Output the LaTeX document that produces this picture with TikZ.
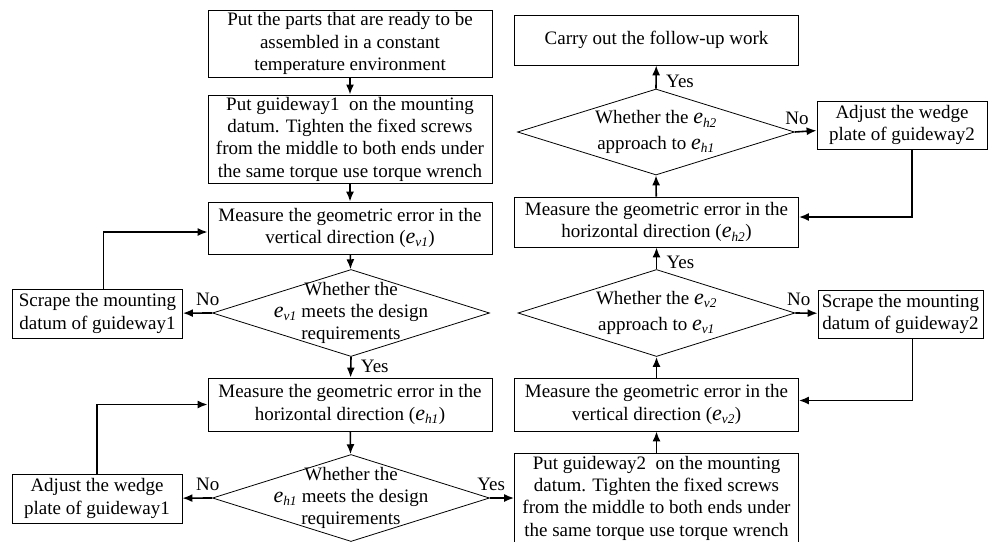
\documentclass[tikz,border=0pt]{standalone}
\usepackage{fontspec}
\setmainfont{Liberation Serif}
\usetikzlibrary{shapes.geometric,arrows.meta}

\newcommand{\esub}[1]{{\fontsize{22}{22.3}\selectfont\textit{e}}\textsubscript{\textit{#1}}}

\tikzset{
	box/.style={draw, line width=0.8pt, align=center, minimum width=284pt, inner xsep=2pt, inner ysep=2pt},
	sbox/.style={draw, line width=0.8pt, align=center, minimum width=170pt, minimum height=49pt, inner sep=2pt},
	dia/.style={draw, diamond, line width=0.8pt, inner sep=0pt, minimum width=277pt, minimum height=87pt},
	flow/.style={line width=1.6pt, -{Latex[length=10pt,width=8pt]}},
	tag/.style={above, yshift=3pt}
}

\begin{document}
\begin{tikzpicture}[x=1pt, y=-1pt, font=\fontsize{19}{22.3}\selectfont]
\useasboundingbox (0,0) rectangle (992,541);

\node[box, minimum height=67pt] (a) at (350,43.5) {Put the parts that are ready to be\\assembled in a constant\\temperature environment};
\node[box, minimum height=88pt] (b) at (350,139) {Put guideway1\ \ on the mounting\\datum. Tighten the fixed screws\\from the middle to both ends under\\the same torque use torque wrench};
\node[box, minimum height=52pt] (c) at (350,228) {Measure the geometric error in the\\vertical direction (\esub{v1})};
\node[dia, label={[align=center]center:{Whether the\\\esub{v1} meets the design\\requirements}}] (d1) at (351,313) {};
\node[sbox] (s1) at (97.5,313.5) {Scrape the mounting\\datum of guideway1};
\node[box, minimum height=53pt] (e) at (350,404.5) {Measure the geometric error in the\\horizontal direction (\esub{h1})};
\node[dia, label={[align=center]center:{Whether the\\\esub{h1} meets the design\\requirements}}] (d2) at (351,498) {};
\node[sbox] (a1) at (97,498.5) {Adjust the wedge\\plate of guideway1};

\node[box, minimum height=90pt] (f) at (656.5,498) {Put guideway2\ \ on the mounting\\datum. Tighten the fixed screws\\from the middle to both ends under\\the same torque use torque wrench};
\node[box, minimum height=53pt] (g) at (656.5,404.5) {Measure the geometric error in the\\vertical direction (\esub{v2})};
\node[dia, label={[align=center]center:{Whether the \esub{v2}\\[3pt]approach to \esub{v1}}}] (d3) at (656.5,313) {};
\node[sbox, minimum width=165pt, minimum height=48pt] (s2) at (900.5,314) {Scrape the mounting\\datum of guideway2};
\node[box, minimum height=50pt] (h) at (656.5,222) {Measure the geometric error in the\\horizontal direction (\esub{h2})};
\node[dia, minimum height=86pt] (d4) at (656,132) {};
\node[align=center] (d4t) at (d4.center) {Whether the \esub{h2}\\[3pt]approach to \esub{h1}};
\node[sbox, minimum height=48pt] (a2) at (902,125) {Adjust the wedge\\plate of guideway2};
\node[box, minimum height=50pt] (i) at (656.5,40) {Carry out the follow-up work};

\draw[flow] (a)--(b);
\draw[flow] (b)--(c);
\draw[flow] (c)--(d1);
\draw[flow] (d1.south)--(e) node[pos=0.45, right, xshift=6pt]{Yes};
\draw[flow] (d1.west)--(s1) node[pos=0.15, tag]{No};
\draw[flow] ([xshift=6pt]s1.north) |- ([yshift=-4pt]c.west);
\draw[flow] (e)--(d2);
\draw[flow] (d2.west)--(a1) node[pos=0.15, tag]{No};
\draw[flow] (a1.north) |- (e.west);
\draw[flow] (d2.east)--(f) node[pos=0.05, tag]{Yes};

\draw[flow] (f)--(g);
\draw[flow] (g)--(d3.south);
\draw[flow] (d3.east)--(s2) node[pos=0.15, tag]{No};
\draw[flow] ([xshift=12pt]s2.south) |- ([yshift=4pt]g.east);
\draw[flow] (d3.north)--(h) node[pos=0.3, right, xshift=6pt]{Yes};
\draw[flow] (h)--(d4.south);
\draw[flow] (d4.east)--(a2) node[pos=0.1, tag]{No};
\draw[flow] ([xshift=10pt]a2.south) |- ([yshift=5pt]h.east);
\draw[flow] (d4.north)--(i) node[pos=0.3, right, xshift=6pt]{Yes};
\end{tikzpicture}
\end{document}
